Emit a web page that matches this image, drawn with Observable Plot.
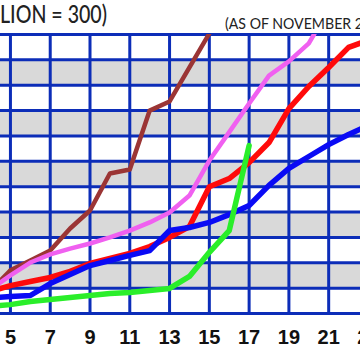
<!DOCTYPE html>
<html><head><meta charset="utf-8">
<script src="https://cdn.jsdelivr.net/npm/d3@7"></script>
<script src="https://cdn.jsdelivr.net/npm/@observablehq/plot@0.6"></script>
<style>html,body{margin:0;padding:0;background:#fff;overflow:hidden}</style>
</head><body><div id="chart"></div>
<script>
// x values (days) and series values (in grid units)
const days    = [4, 5, 6, 7, 8, 9, 10, 11, 12, 13, 14, 15, 16, 17, 18, 19, 20, 21, 22, 23];
const brown   = [0.9, 1.7, 2.09, 2.48, 3.35, 4.06, 5.52, 5.68, 8.0, 8.36, 9.7, 11.04, 12.5, null, null, null, null, null, null, null];
const magenta = [0.95, 1.5, 2.01, 2.33, 2.56, 2.76, 3.0, 3.27, 3.59, 3.98, 4.65, 6.03, 7.15, 8.28, 9.38, 9.94, 10.65, 12.0, null, null];
const red     = [0.87, 1.1, 1.26, 1.42, 1.66, 1.97, 2.17, 2.37, 2.64, 3.0, 3.43, 5.0, 5.32, 5.95, 6.74, 8.08, 8.95, 9.7, 10.49, 10.78];
const blue    = [0.62, 0.67, 0.71, 1.18, 1.54, 1.89, 2.09, 2.29, 2.48, 3.27, 3.39, 3.59, 3.9, 4.26, 5.05, 5.72, 6.19, 6.66, 7.06, 7.41];
const green   = [0.28, 0.35, 0.47, 0.55, 0.63, 0.71, 0.79, 0.83, 0.91, 0.99, 1.46, 2.41, 3.27, 6.62, null, null, null, null, null, null];

const xTicks = [5, 7, 9, 11, 13, 15, 17, 19, 21, 23];
const yLines = [0, 1, 2, 3, 4, 5, 6, 7, 8, 9, 10, 11];
const bandStarts = [1, 3, 5, 7, 9];
const titleLeft = "LION = 300)";
const titleRight = "(AS OF NOVEMBER 2";

const GRID = "#0c2db8";
const series = [
  {values: brown,   color: "#9b3535", width: 4.5},
  {values: magenta, color: "#f060f0", width: 4.5},
  {values: red,     color: "#ff0a0a", width: 5.5},
  {values: blue,    color: "#0a0af5", width: 5.5},
  {values: green,   color: "#2aee2a", width: 5.5}
];
const toRows = vals => days.map((d, i) => ({day: d, value: vals[i]})).filter(r => r.value != null);

const chart = Plot.plot({
  width: 360, height: 363,
  marginLeft: 0, marginRight: 0, marginTop: 34, marginBottom: 50,
  style: {fontFamily: "Liberation Sans, Arial, sans-serif", background: "#fff"},
  x: {domain: [4.5, 22.6]},
  y: {domain: [0, 11], axis: null},
  marks: [
    Plot.rect(bandStarts, {x1: () => 4.0, x2: () => 23.5, y1: d => d, y2: d => d + 1, fill: "#d9d9d9", clip: true}),
    Plot.ruleY(yLines, {stroke: GRID, strokeWidth: 3}),
    Plot.ruleX(xTicks, {y1: () => 0, y2: () => 11, stroke: GRID, strokeWidth: 3}),
    ...series.map(s => Plot.line(toRows(s.values), {x: "day", y: "value", stroke: s.color, strokeWidth: s.width, clip: true, strokeLinejoin: "round", strokeLinecap: "round"})),
    Plot.axisX(xTicks, {tickSize: 0, tickPadding: 16, fontSize: 20, fontWeight: "bold", fill: "#111", label: null})
  ]
});
document.getElementById("chart").appendChild(chart);
const svg = d3.select(chart);
svg.append("text").attr("x", 0).attr("y", 23).attr("text-anchor", "start")
  .attr("font-family", "Lato, sans-serif").attr("font-size", 25).attr("font-weight", 500)
  .attr("fill", "#222").attr("textLength", 107).attr("lengthAdjust", "spacingAndGlyphs")
  .text(titleLeft);
svg.append("text").attr("x", 225).attr("y", 29).attr("text-anchor", "start")
  .attr("font-family", "Lato, sans-serif").attr("font-size", 16)
  .attr("fill", "#222").attr("textLength", 138).attr("lengthAdjust", "spacingAndGlyphs")
  .text(titleRight);
</script>
</body></html>
